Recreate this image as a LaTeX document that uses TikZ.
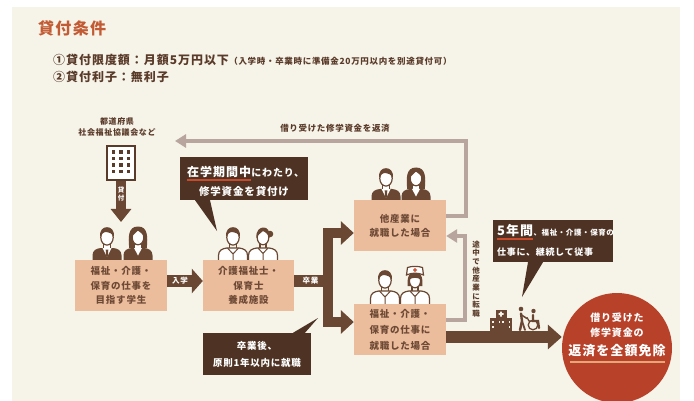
\documentclass[tikz,border=0pt]{standalone}
\usepackage{fontspec}
\setmainfont{Noto Sans CJK JP}[LetterSpace=8]
\usetikzlibrary{arrows.meta}

\definecolor{cream}{HTML}{F6F3E8}
\definecolor{ink}{HTML}{5A3B2A}
\definecolor{bubble}{HTML}{4E3324}
\definecolor{flow}{HTML}{6A4732}
\definecolor{peach}{HTML}{ECBD9C}
\definecolor{boxtext}{HTML}{6E4A36}
\definecolor{ret}{HTML}{B8A59E}
\definecolor{titlered}{HTML}{C25A33}
\definecolor{exemptred}{HTML}{B8412A}
\definecolor{redline}{HTML}{C84A2A}
\definecolor{goldline}{HTML}{E4A878}

\newcommand\fsz[2]{\fontsize{#1}{#2}\selectfont}

\tikzset{
  stepbox/.style={fill=peach, text=boxtext, align=center, inner sep=0pt,
    minimum width=92pt, minimum height=51pt, font=\bfseries\fsz{9.5}{14.5}},
  bub/.style={fill=bubble, text=white, inner sep=0pt, align=center},
  wtext/.style={text=white, inner sep=0pt, font=\bfseries},
  inktext/.style={text=ink, inner sep=0pt, font=\bfseries},
  thick flow/.style={draw=flow, line width=#1, line join=miter},
  retline/.style={draw=ret, line width=3.2pt, line join=miter,
    -{Triangle[width=13pt,length=11pt]}},
  % person in dark suit, short hair
  suitman/.pic={
    \fill[flow] (-14.5,24) -- (-14.5,18.5) .. controls (-14.5,13.5) and (-11,11.5) .. (-6,11)
      -- (6,11) .. controls (11,11.5) and (14.5,13.5) .. (14.5,18.5) -- (14.5,24) -- cycle;
    \fill[white] (-4.5,11) -- (0,20) -- (4.5,11) -- cycle;
    \fill[flow] (-1.3,12.5) -- (1.3,12.5) -- (0.9,19) -- (0,20.5) -- (-0.9,19) -- cycle;
    \fill[white] (-3.2,5) rectangle (3.2,11.5);
    \draw[flow, line width=1.2pt] (-3.2,6) -- (-3.2,11) (3.2,6) -- (3.2,11);
    \draw[flow, fill=white, line width=1.2pt] (0,0.5) ellipse [x radius=6.2pt, y radius=7.6pt];
    \fill[flow] (-6.9,0) .. controls (-7.6,-7) and (-4,-9.8) .. (0,-9.8)
      .. controls (4,-9.8) and (7.6,-7) .. (6.9,0)
      .. controls (5.5,-3.5) and (2,-5) .. (-2,-5)
      .. controls (-4.5,-5) and (-6,-2.5) .. (-6.9,0) -- cycle;
  },
  % person in dark suit, long hair
  suitwoman/.pic={
    \fill[flow] (-8.8,11) .. controls (-9.8,0) and (-10,-10.5) .. (0,-10.5)
      .. controls (10,-10.5) and (9.8,0) .. (8.8,11) -- cycle;
    \fill[flow] (-14.5,24) -- (-14.5,18.5) .. controls (-14.5,13.5) and (-11,11.5) .. (-6,11)
      -- (6,11) .. controls (11,11.5) and (14.5,13.5) .. (14.5,18.5) -- (14.5,24) -- cycle;
    \fill[white] (-4,11) -- (0,18.5) -- (4,11) -- cycle;
    \fill[white] (-3,5) rectangle (3,11.5);
    \draw[flow, fill=white, line width=1.2pt] (0,0.5) ellipse [x radius=5.8pt, y radius=7.3pt];
    \fill[flow] (-6.6,-0.5) .. controls (-6.6,-7) and (-3,-9) .. (0.5,-9)
      .. controls (4,-9) and (6.8,-6.5) .. (6.6,-0.5)
      .. controls (4.5,-3) and (2,-5) .. (0,-6.5)
      .. controls (-2,-4) and (-4.5,-2.5) .. (-6.6,-0.5) -- cycle;
  },
  % person in white uniform, short hair
  uniman/.pic={
    \draw[flow, fill=white, line width=1.2pt] (-14.5,24) -- (-14.5,18.5)
      .. controls (-14.5,13.5) and (-11,11.5) .. (-6,11)
      -- (6,11) .. controls (11,11.5) and (14.5,13.5) .. (14.5,18.5) -- (14.5,24);
    \draw[flow, line width=1pt] (-5.5,11) -- (0,17) -- (5.5,11) (0,17) -- (0,24);
    \draw[flow, line width=1.2pt] (-3.2,6) -- (-3.2,11) (3.2,6) -- (3.2,11);
    \draw[flow, fill=white, line width=1.2pt] (0,0.5) ellipse [x radius=6.2pt, y radius=7.6pt];
    \fill[flow] (-6.9,0) .. controls (-7.6,-7) and (-4,-9.8) .. (0,-9.8)
      .. controls (4,-9.8) and (7.6,-7) .. (6.9,0)
      .. controls (5.5,-3.5) and (2,-5) .. (-2,-5)
      .. controls (-4.5,-5) and (-6,-2.5) .. (-6.9,0) -- cycle;
  },
  % person in white uniform, tied hair
  uniwoman/.pic={
    \fill[flow] (7,-3) circle (3.3pt);
    \draw[flow, fill=white, line width=1.2pt] (-14.5,24) -- (-14.5,18.5)
      .. controls (-14.5,13.5) and (-11,11.5) .. (-6,11)
      -- (6,11) .. controls (11,11.5) and (14.5,13.5) .. (14.5,18.5) -- (14.5,24);
    \draw[flow, line width=1pt] (-5,11) -- (0,16.5) -- (5,11) (0,16.5) -- (0,24);
    \draw[flow, line width=1.2pt] (-3,6) -- (-3,11) (3,6) -- (3,11);
    \draw[flow, fill=white, line width=1.2pt] (0,0.5) ellipse [x radius=5.8pt, y radius=7.3pt];
    \fill[flow] (-6.6,1) .. controls (-7.2,-7) and (-3,-9.5) .. (0.5,-9.5)
      .. controls (4,-9.5) and (7.2,-7) .. (6.6,1)
      .. controls (5.5,-3) and (2,-5) .. (0,-6)
      .. controls (-2,-4) and (-5,-2.5) .. (-6.6,1) -- cycle;
  },
  % nurse with cap
  nurse/.pic={
    \draw[flow, fill=white, line width=1.2pt] (-14.5,24) -- (-14.5,18.5)
      .. controls (-14.5,13.5) and (-11,11.5) .. (-6,11)
      -- (6,11) .. controls (11,11.5) and (14.5,13.5) .. (14.5,18.5) -- (14.5,24);
    \draw[flow, line width=1pt] (-5,11) -- (0,16.5) -- (5,11) (0,16.5) -- (0,24);
    \draw[flow, line width=1.2pt] (-3,6) -- (-3,11) (3,6) -- (3,11);
    \fill[flow] (-7.3,6) .. controls (-8,-3) and (-6,-8) .. (0,-8)
      .. controls (6,-8) and (8,-3) .. (7.3,6) -- cycle;
    \draw[flow, fill=white, line width=1.2pt] (0,0.8) ellipse [x radius=5.6pt, y radius=7pt];
    \fill[flow] (-6.2,0) .. controls (-6,-5) and (-3,-6.5) .. (0,-6.5)
      .. controls (3,-6.5) and (6,-5) .. (6.2,0)
      .. controls (3,-3) and (-3,-3) .. (-6.2,0) -- cycle;
    \draw[flow, fill=white, line width=1.2pt] (-8.5,-5) -- (-7.5,-12.5)
      .. controls (-3,-14) and (3,-14) .. (7.5,-12.5) -- (8.5,-5)
      .. controls (3,-7.5) and (-3,-7.5) .. cycle;
    \fill[redline] (-0.7,-12) rectangle (0.7,-8) (-2,-10.7) rectangle (2,-9.3);
  },
}

\begin{document}
\begin{tikzpicture}[x=1pt, y=-1pt]
  \useasboundingbox (0,0) rectangle (694,401);
  \fill[white] (0,0) rectangle (694,401);
  \fill[cream] (12,7) rectangle (680,401);

  % ---- heading and loan conditions ----
  \node[anchor=west, text=titlered, inner sep=0pt, font=\bfseries\fsz{16}{16}] (title) at (38,28) {貸付条件};
  \node[inktext, anchor=west, font=\bfseries\fsz{12}{12}] (cond1) at (53,60) {①貸付限度額：月額5万円以下};
  \node[inktext, anchor=base west, font=\bfseries\fsz{8.5}{8.5}] (cond1note) at (cond1.base east) {（入学時・卒業時に準備金20万円以内を別途貸付可）};
  \node[inktext, anchor=west, font=\bfseries\fsz{12}{12}] (cond2) at (53,77) {②貸付利子：無利子};

  % ---- lender ----
  \node[inktext, align=center, font=\bfseries\fsz{8}{10.5}] (org) at (117,127) {都道府県\\社会福祉協議会など};
  \node[draw=ink, fill=white, line width=2.4pt, minimum width=28pt, minimum height=34pt, inner sep=0pt] (bldg) at (121,163) {};
  \foreach \cx in {113.5,121,128.5}
    \foreach \cy in {152,158.5,165,171.5}
      \fill[ink] (\cx-1.7,\cy-1.7) rectangle (\cx+1.7,\cy+1.7);
  \coordinate (loanend) at (121,222);
  \draw[thick flow=10pt, -{Triangle[width=20pt,length=13pt]}] (bldg.south) -- (loanend);
  \node[wtext, align=center, font=\bfseries\fsz{6.5}{8}] at (121,194) {貸\\付};

  % ---- people ----
  \pic at (107,237) {suitman};
  \pic at (138,237) {suitwoman};
  \pic at (233,237) {uniman};
  \pic at (263,237) {uniwoman};
  \pic at (386,178) {suitman};
  \pic at (416,178) {suitwoman};
  \pic at (385,280) {uniman};
  \pic at (415,280) {nurse};

  % ---- stages ----
  \node[stepbox] (student) at (121,285.5) {福祉・介護・\\保育の仕事を\\目指す学生};
  \node[stepbox, minimum width=91pt] (school) at (248.5,285.5) {介護福祉士・\\保育士\\養成施設};
  \node[stepbox, minimum height=50pt, font=\bfseries\fsz{9.5}{14}] (other) at (400,225.5) {他産業に\\就職した場合};
  \node[stepbox, font=\bfseries\fsz{9.5}{16}] (welfare) at (400,329.5) {福祉・介護・\\保育の仕事に\\就職した場合};

  % ---- result ----
  \node[circle, fill=exemptred, minimum size=110pt, inner sep=0pt] (exempt) at (617,348) {};
  \node[wtext, align=center, font=\bfseries\fsz{10}{15}] at (617,325.5) {借り受けた\\修学資金の};
  \node[wtext, font=\bfseries\fsz{13}{13}] (exemptall) at (617,351) {返済を全額免除};
  \draw[goldline, line width=2pt] (570,362) -- (665,362);

  % ---- flow arrows ----
  \draw[thick flow=12pt, -{Triangle[width=24pt,length=11pt]}] ([yshift=4.5pt]student.east) -- ([yshift=4.5pt]school.west)
    node[pos=0.36, wtext, font=\bfseries\fsz{7.5}{7.5}] {入学};
  \coordinate (trunk) at (333,281);
  \draw[thick flow=12pt] ([yshift=4.5pt]school.east) -- (trunk)
    node[pos=0.42, wtext, font=\bfseries\fsz{7.5}{7.5}] {卒業};
  \draw[thick flow=10pt, {Triangle[width=23pt,length=13pt]}-{Triangle[width=23pt,length=13pt]}]
    ([yshift=-7.5pt]other.west) -- (328,233) -- (328,322) -- ([yshift=7.5pt]welfare.west);
  \draw[thick flow=12pt, -{Triangle[width=24pt,length=14pt]}] ([yshift=-7.5pt]welfare.east) -- ([yshift=11pt]exempt.west);

  % ---- repayment paths ----
  \coordinate (repayend) at (175,141);
  \draw[retline] ([yshift=9.5pt]other.east) -- (466,216) -- (466,141) -- (repayend);
  \node[inktext, font=\bfseries\fsz{8.5}{8.5}] (repaylbl) at (335,128) {借り受けた修学資金を返済};
  \draw[retline] ([yshift=9.5pt]welfare.east) -- (465,320) -- (465,236) -- ([yshift=-10.5pt]other.east);
  \node[inktext, align=center, font=\bfseries\fsz{7.5}{8.7}] (switchlbl) at (476,279) {途\\中\\で\\他\\産\\業\\に\\転\\職};

  % ---- speech bubbles ----
  \node[bub, minimum width=128pt, minimum height=43pt] (loanmsg) at (244,178.5) {};
  \fill[bubble] ([xshift=-49pt]loanmsg.south) -- ([xshift=-34pt]loanmsg.south) -- (217,231) -- cycle;
  \node[wtext, anchor=base west, font=\bfseries\fsz{12}{12}] (zaigaku) at (187,177) {在学期間中};
  \node[wtext, anchor=base west, font=\bfseries\fsz{10}{10}] at (zaigaku.base east) {にわたり、};
  \node[wtext, font=\bfseries\fsz{10.5}{10.5}] at (244,191) {修学資金を貸付け};
  \draw[redline, line width=1.6pt] ([yshift=-1.6pt]zaigaku.south west) -- ([yshift=-1.6pt]zaigaku.south east);

  \node[bub, minimum width=108pt, minimum height=42pt, font=\bfseries\fsz{9.5}{17}] (jobmsg) at (257,354) {卒業後、\\原則1年以内に就職};
  \fill[bubble] ([xshift=36pt]jobmsg.north) -- ([xshift=48pt]jobmsg.north) -- (318,318) -- cycle;

  \node[bub, minimum width=120pt, minimum height=42pt] (fivemsg) at (553,241) {};
  \fill[bubble] ([xshift=-25pt]fivemsg.south) -- ([xshift=-10pt]fivemsg.south) -- (522,297) -- cycle;
  \node[wtext, anchor=base west, font=\bfseries\fsz{13}{13}] (fiveyr) at (497,236) {5年間};
  \node[wtext, anchor=base west, font=\bfseries\fsz{7.5}{7.5}] at (fiveyr.base east) {、福祉・介護・保育の};
  \node[wtext, anchor=west, font=\bfseries\fsz{9}{9}] at (497,252) {仕事に、継続して従事};
  \draw[redline, line width=1.6pt] ([yshift=-1.6pt]fiveyr.south west) -- ([yshift=-1.6pt]fiveyr.south east);

  % ---- hospital and wheelchair ----
  \fill[flow] (490,318) rectangle (512,331);
  \fill[flow] (495.5,310) rectangle (506.5,331);
  \fill[cream] (500.2,311.5) rectangle (501.8,316.5) (498.5,313.2) rectangle (503.5,314.8);
  \foreach \wx in {492,508.5} \foreach \wy in {321,326} \fill[cream] (\wx,\wy) rectangle +(1.8,1.8);
  \foreach \wx in {498.5,502} \fill[cream] (\wx,320.5) rectangle +(1.8,2.2);
  \fill[flow] (521,309) circle (2.3pt);
  \draw[flow, line width=2.4pt, line cap=round] (521,313.5) -- (522,321) -- (520,330);
  \draw[flow, line width=1.8pt, line cap=round] (522,321) -- (525,330);
  \draw[flow, line width=1.5pt, line cap=round] (521.5,315) -- (527,318.5);
  \draw[flow, line width=1.3pt] (533,325) circle (4.8pt);
  \fill[flow] (533.5,311) circle (2.2pt);
  \draw[flow, line width=2.3pt, line cap=round] (533,315) -- (533,321) -- (538,321) -- (539,328);
  \draw[flow, line width=1.3pt] (527,317.5) -- (529,321) -- (535,321);
\end{tikzpicture}
\end{document}
